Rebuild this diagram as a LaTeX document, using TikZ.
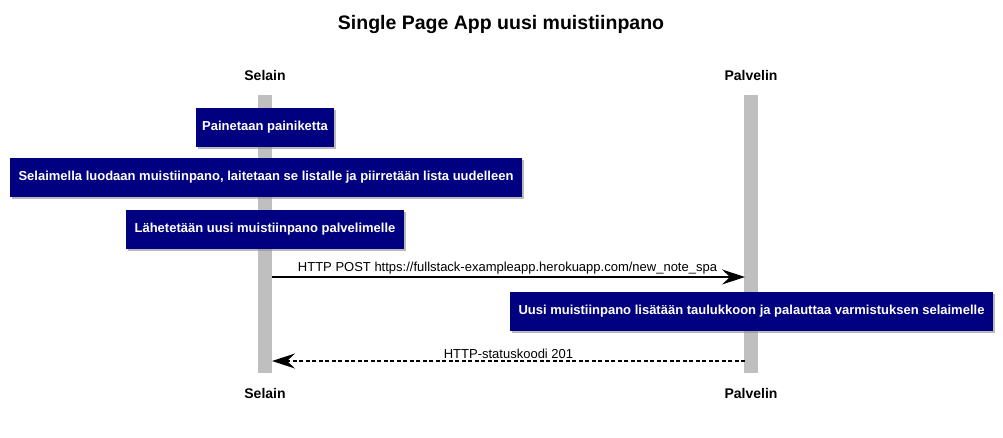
\documentclass[tikz,border=0pt]{standalone}
\usepackage{fontspec}
\setmainfont{Liberation Sans}
\usetikzlibrary{arrows.meta,shadows}
\begin{document}
\begin{tikzpicture}[x=1pt,y=-1pt,
  lifeline/.style={fill=black!25,draw=none},
  note/.style={fill=navyc,draw=none,text=white,font=\bfseries\fontsize{13}{15}\selectfont,
    minimum height=39pt,inner xsep=6pt,drop shadow={shadow xshift=2pt,shadow yshift=-2pt,fill=black!45,opacity=0.6}},
  actor/.style={font=\bfseries\fontsize{14}{16}\selectfont},
  msg/.style={-{Stealth[length=23pt,width=15pt,inset=8pt]},line width=1.2pt},
  lbl/.style={font=\fontsize{13}{15}\selectfont,inner sep=1pt}]
\definecolor{navyc}{RGB}{0,0,128}
\useasboundingbox (0,0) rectangle (1003,437);
\node[font=\bfseries\fontsize{19.5}{22}\selectfont] (title) at (501,24) {Single Page App uusi muistiinpano};
\node[actor] (s1) at (265,75) {Selain};
\node[actor] (p1) at (751,75) {Palvelin};
\node[actor] (s2) at (265,393) {Selain};
\node[actor] (p2) at (751,393) {Palvelin};
\fill[lifeline] (258,95) rectangle (272,373);
\fill[lifeline] (744,95) rectangle (758,373);
\coordinate (sa) at (272,277);
\coordinate (pa) at (745,277);
\coordinate (sb) at (272,361);
\coordinate (pb) at (745,361);
\node[note,minimum width=138pt] (n1) at (265,127.5) {Painetaan painiketta};
\node[note,minimum width=512pt] (n2) at (266,177) {Selaimella luodaan muistiinpano, laitetaan se listalle ja piirretään lista uudelleen};
\node[note,minimum width=278pt] (n3) at (265,229.5) {Lähetetään uusi muistiinpano palvelimelle};
\draw[msg] (sa) -- node[lbl,above=1pt,xshift=-1pt] {HTTP POST https://fullstack-exampleapp.herokuapp.com/new\_note\_spa} (pa);
\node[note,minimum width=483pt] (n4) at (751.5,311.5) {Uusi muistiinpano lisätään taulukkoon ja palauttaa varmistuksen selaimelle};
\draw[msg,dashed,dash pattern=on 4pt off 2.5pt] (pb) -- node[lbl,above=1pt] {HTTP-statuskoodi 201} (sb);
\end{tikzpicture}
\end{document}
